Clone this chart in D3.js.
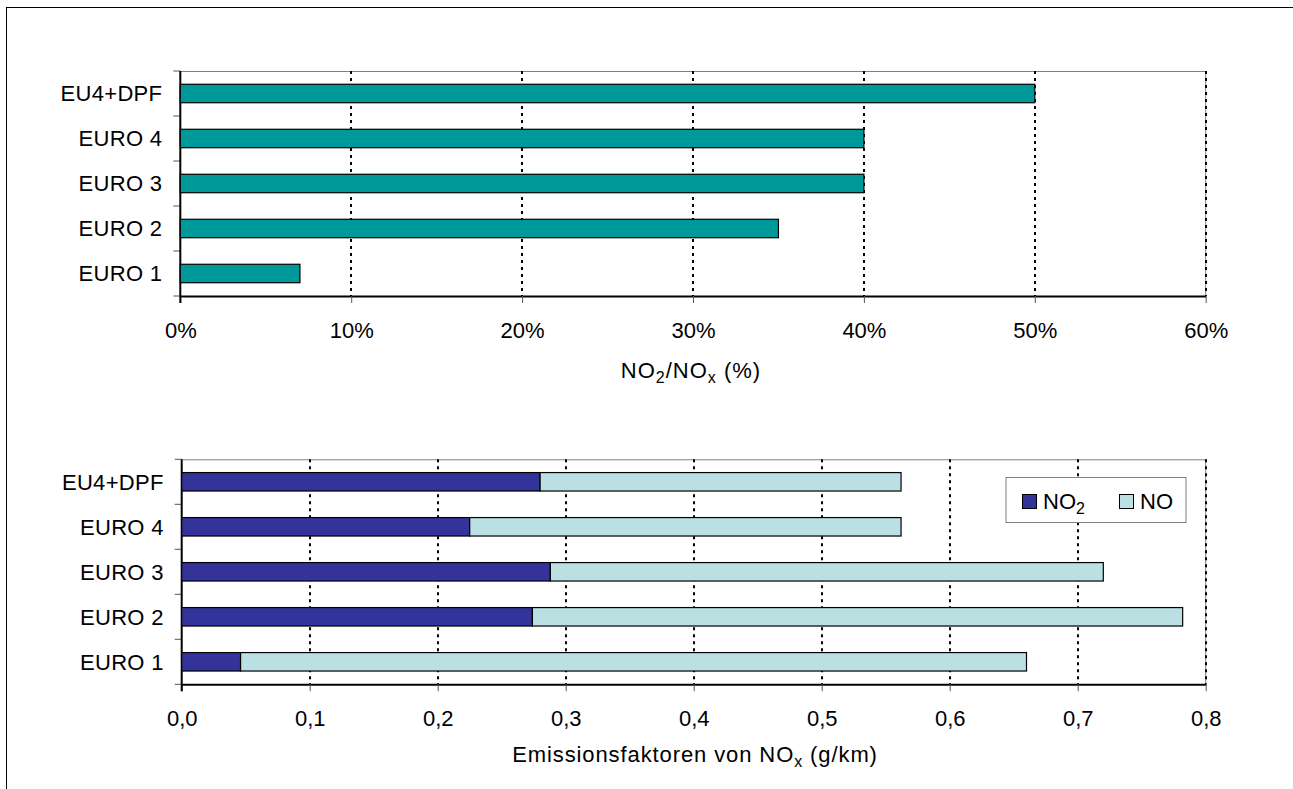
<!DOCTYPE html>
<html><head><meta charset="utf-8">
<script src="https://cdn.jsdelivr.net/npm/d3@7/dist/d3.min.js"></script>
<style>
body{margin:0;background:#fff;}
text{font-family:"Liberation Sans",Arial,sans-serif;fill:#000;}
</style></head>
<body><svg id="c" width="1293" height="789"></svg>
<script>
// ---- data ----
const categories = ["EU4+DPF","EURO 4","EURO 3","EURO 2","EURO 1"];
const ratioPct = [50, 40, 40, 35, 7];            // NO2/NOx (%)
const no2Values = [0.280, 0.225, 0.288, 0.274, 0.046]; // g/km
const noValues  = [0.282, 0.337, 0.432, 0.508, 0.614]; // g/km
const seriesNames = ["NO2","NO"];
const pctTicks = [0,10,20,30,40,50,60];
const gkmTicks = [0,0.1,0.2,0.3,0.4,0.5,0.6,0.7,0.8];

const colTeal = "#009999", colNO2 = "#333399", colNO = "#BBE0E3";
const svg = d3.select("#c");
const FS = 22;
const locale = d3.formatLocale({decimal:",",thousands:".",grouping:[3],currency:["","€"]});
const fmt1 = locale.format(".1f");

// outer frame
svg.append("rect").attr("x",6.5).attr("y",7.5).attr("width",1400).attr("height",900)
  .attr("fill","none").attr("stroke","#000").attr("stroke-width",1);

function panel(opts){
  const {x0,x1,y0,y1,domainMax,ticks,tickFmt} = opts;
  const g = svg.append("g");
  const x = d3.scaleLinear().domain([0,domainMax]).range([x0,x1]);
  const y = d3.scaleBand().domain(categories).range([y0,y1]).paddingInner(0.59).paddingOuter(0.295);
  // top border
  g.append("line").attr("x1",x0).attr("x2",x1).attr("y1",y0+0.5).attr("y2",y0+0.5)
    .attr("stroke","#808080").attr("stroke-width",1);
  g.append("line").attr("x1",x1).attr("x2",x1).attr("y1",y0).attr("y2",y1)
    .attr("stroke","#808080").attr("stroke-width",1);
  // gridlines
  g.selectAll(".grid").data(ticks.filter(t=>t>0)).join("line")
    .attr("x1",d=>Math.round(x(d))).attr("x2",d=>Math.round(x(d)))
    .attr("y1",y0).attr("y2",y1)
    .attr("stroke","#000").attr("stroke-width",2).attr("stroke-dasharray","3,4");
  // x axis
  const ax = g.append("g").attr("transform",`translate(0,${y1})`)
    .call(d3.axisBottom(x).tickValues(ticks).tickFormat(tickFmt).tickSize(7).tickPadding(19.5).tickSizeOuter(0));
  ax.select(".domain").attr("stroke","#000").attr("stroke-width",2);
  ax.selectAll(".tick line").attr("stroke","#555");
  ax.selectAll("text").attr("font-size",FS).attr("font-family","'Liberation Sans',Arial,sans-serif");
  // y axis
  const yTickPos = d3.range(categories.length+1).map(i=>y0+i*(y1-y0)/categories.length);
  g.selectAll(".ytick").data(yTickPos).join("line")
    .attr("x1",x0-7).attr("x2",x0).attr("y1",d=>d).attr("y2",d=>d)
    .attr("stroke","#555").attr("stroke-width",1);
  g.append("line").attr("x1",x0).attr("x2",x0).attr("y1",y0).attr("y2",y1+7)
    .attr("stroke","#000").attr("stroke-width",2);
  g.selectAll(".ylab").data(categories).join("text")
    .attr("x",x0-18).attr("y",d=>y(d)+y.bandwidth()/2).attr("dy","0.36em")
    .attr("text-anchor","end").attr("font-size",FS).attr("letter-spacing",0.3).text(d=>d);
  return {g,x,y};
}

// ---- top panel ----
const topP = panel({x0:180.3,x1:1205.7,y0:71,y1:296,domainMax:60,ticks:pctTicks,tickFmt:d=>d+"%"});
topP.g.selectAll(".bar").data(categories).join("rect")
  .attr("x",topP.x(0)).attr("y",d=>topP.y(d))
  .attr("width",(d,i)=>topP.x(ratioPct[i])-topP.x(0)).attr("height",topP.y.bandwidth())
  .attr("fill",colTeal).attr("stroke","#000").attr("stroke-width",1.2);
// top title
{
  const t = svg.append("text").attr("x",691).attr("y",378).attr("text-anchor","middle")
    .attr("font-size",FS).attr("letter-spacing",1);
  t.append("tspan").text("NO");
  t.append("tspan").text("2").attr("font-size",16).attr("dy",5);
  t.append("tspan").text("/NO").attr("dy",-5);
  t.append("tspan").text("x").attr("font-size",16).attr("dy",5);
  t.append("tspan").text(" (%)").attr("dy",-5);
}

// ---- bottom panel ----
const botP = panel({x0:181.7,x1:1205.7,y0:459.3,y1:684.3,domainMax:0.8,ticks:gkmTicks,tickFmt:fmt1});
const stackData = categories.map((c,i)=>({cat:c,NO2:no2Values[i],NO:noValues[i]}));
const stacked = d3.stack().keys(seriesNames)(stackData);
const colors = {NO2:colNO2, NO:colNO};
botP.g.selectAll(".series").data(stacked).join("g").attr("fill",d=>colors[d.key])
  .selectAll("rect").data(d=>d).join("rect")
  .attr("x",d=>botP.x(d[0])).attr("y",d=>botP.y(d.data.cat))
  .attr("width",d=>botP.x(d[1])-botP.x(d[0])).attr("height",botP.y.bandwidth())
  .attr("stroke","#000").attr("stroke-width",1.2);
{
  const t = svg.append("text").attr("x",695).attr("y",762).attr("text-anchor","middle")
    .attr("font-size",FS).attr("letter-spacing",0.9);
  t.append("tspan").text("Emissionsfaktoren von NO");
  t.append("tspan").text("x").attr("font-size",16).attr("dy",5);
  t.append("tspan").text(" (g/km)").attr("dy",-5);
}
// legend
{
  const lg = svg.append("g");
  lg.append("rect").attr("x",1006).attr("y",477.5).attr("width",180).attr("height",45)
    .attr("fill","#fff").attr("stroke","#808080").attr("stroke-width",1);
  const items = [{k:"NO2",x:1022},{k:"NO",x:1119}];
  items.forEach(it=>{
    lg.append("rect").attr("x",it.x+0.5).attr("y",494.5).attr("width",14).attr("height",14)
      .attr("fill",colors[it.k]).attr("stroke","#000").attr("stroke-width",1);
    const t = lg.append("text").attr("x",it.x+21).attr("y",509).attr("font-size",FS);
    if(it.k==="NO2"){ t.append("tspan").text("NO"); t.append("tspan").text("2").attr("font-size",16).attr("dy",5); }
    else t.text("NO");
  });
}
</script></body></html>
